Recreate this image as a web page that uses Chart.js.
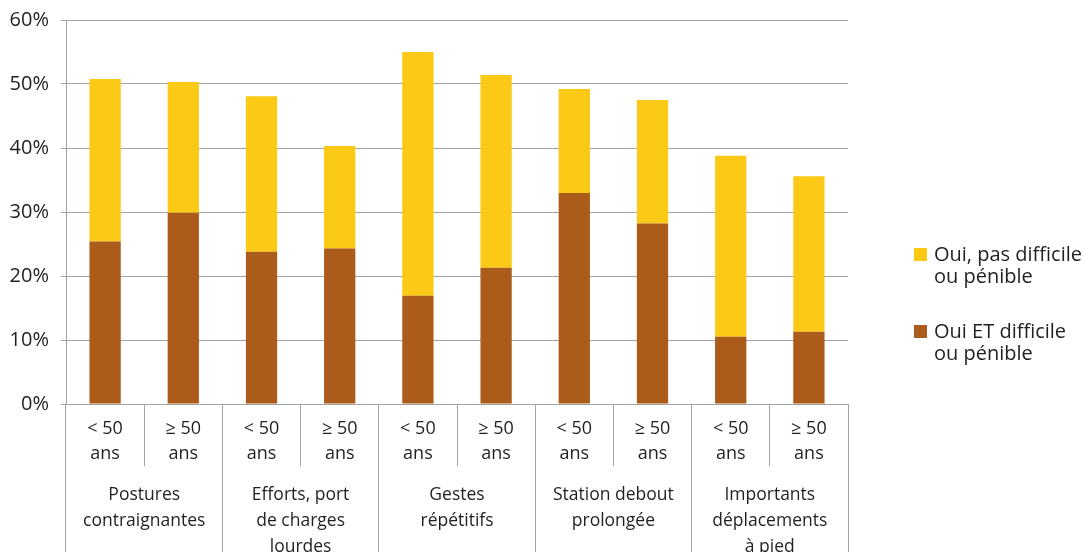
<!DOCTYPE html>
<html>
<head>
<meta charset="utf-8">
<script src="https://cdn.jsdelivr.net/npm/chart.js@4"></script>
<style>
  html, body { margin: 0; padding: 0; overflow: hidden; background: #fff; }
  #wrap { width: 1085px; height: 600px; }
</style>
</head>
<body>
<div id="wrap"><canvas id="graph"></canvas></div>
<script>
// themes (groupes de barres) et tranches d'age
var groups = [
  ['Postures', 'contraignantes'],
  ['Efforts, port', 'de charges', 'lourdes'],
  ['Gestes', 'répétitifs'],
  ['Station debout', 'prolongée'],
  ['Importants', 'déplacements', 'à pied']
]
var ages = [['< 50', 'ans'], ['\u2265 50', 'ans']]

// valeurs en %
var difficile = [25.4, 29.9, 23.8, 24.3, 16.9, 21.3, 32.95, 28.2, 10.5, 11.3]
var pasDifficile = [25.4, 20.4, 24.3, 16.0, 38.1, 30.1, 16.25, 19.3, 28.3, 24.3]

var seriesNames = [['Oui ET difficile', 'ou pénible'], ['Oui, pas difficile', 'ou pénible']]
var seriesColors = ['#ab5c1a', '#fcc916']

var labels = []
groups.forEach(function () { ages.forEach(function (a) { labels.push(a) }) })

var gridColor = '#a3a3a3'
var textColor = '#231f20'
var fontFamily = '"Open Sans", Lato, sans-serif'
Chart.defaults.font.family = fontFamily

// legende a droite, texte sur deux lignes
var sideLegend = {
  id: 'sideLegend',
  afterDraw: function (chart) {
    var ctx = chart.ctx
    var x = chart.chartArea.right + 66
    var sets = chart.data.datasets.slice().reverse()
    var names = seriesNames.slice().reverse()
    ctx.save()
    ctx.font = '20px ' + fontFamily
    ctx.textBaseline = 'middle'
    sets.forEach(function (ds, i) {
      var top = 248 + i * 77
      ctx.fillStyle = ds.backgroundColor
      ctx.fillRect(x, top, 13, 13)
      ctx.fillStyle = textColor
      ctx.fillText(names[i][0], x + 20, top + 7)
      ctx.fillText(names[i][1], x + 20, top + 29)
    })
    ctx.restore()
  }
}

var ctx = document.getElementById('graph').getContext('2d')

var myChart = new Chart(ctx, {
  type: 'bar',
  data: {
    labels: labels,
    datasets: [{
      label: seriesNames[0].join(' '),
      data: difficile,
      backgroundColor: seriesColors[0],
      barPercentage: 0.4,
      categoryPercentage: 1
    }, {
      label: seriesNames[1].join(' '),
      data: pasDifficile,
      backgroundColor: seriesColors[1],
      barPercentage: 0.4,
      categoryPercentage: 1
    }]
  },
  options: {
    responsive: true,
    maintainAspectRatio: false,
    animation: false,
    layout: {
      padding: { top: 20, right: 237, left: 0, bottom: 4 }
    },
    plugins: {
      legend: { display: false },
      tooltip: { enabled: false }
    },
    scales: {
      x: {
        stacked: true,
        offset: true,
        grid: { offset: true, drawOnChartArea: false, tickLength: 62, color: gridColor },
        border: { color: gridColor },
        ticks: {
          padding: -49.5,
          autoSkip: false,
          maxRotation: 0,
          color: textColor,
          font: { size: 18, lineHeight: '25px' }
        },
        afterFit: function (s) { s.height = 62 }
      },
      x2: {
        type: 'category',
        labels: groups,
        position: 'bottom',
        offset: true,
        grid: { offset: true, drawOnChartArea: false, tickLength: 130, color: gridColor },
        border: { display: false },
        ticks: {
          padding: -114,
          autoSkip: false,
          maxRotation: 0,
          color: textColor,
          font: { size: 17.5, lineHeight: '26px' }
        },
        afterFit: function (s) { s.height = 130 }
      },
      y: {
        stacked: true,
        min: 0,
        max: 60,
        grid: { color: gridColor, tickLength: 5 },
        border: { color: gridColor },
        ticks: {
          stepSize: 10,
          padding: 12,
          color: textColor,
          font: { size: 20 },
          callback: function (v) { return v + '%' }
        },
        afterFit: function (s) {
          s.width = 66
          s.paddingTop = 10
          s.paddingBottom = 10
        }
      }
    }
  },
  plugins: [sideLegend]
})
</script>
</body>
</html>
